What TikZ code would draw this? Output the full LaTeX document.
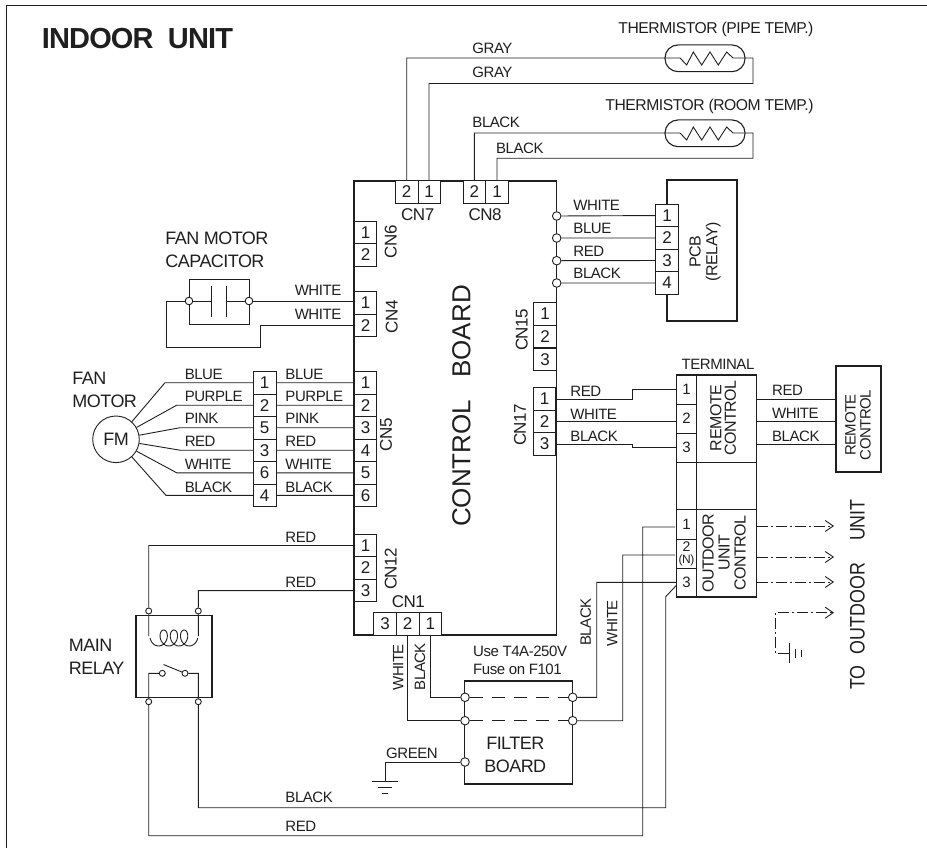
\documentclass[tikz,border=0pt]{standalone}
\usepackage{fontspec}
\setmainfont[LetterSpace=-3]{Liberation Sans}
\usepackage{tikz}
\usetikzlibrary{arrows.meta}

\newfontfamily\plainfont{Liberation Sans}

\begin{document}
\begin{tikzpicture}[x=1pt,y=-1pt,line width=0.9pt,color=black!88]
        \tikzstyle{every node}=[inner sep=0pt]
        \tikzstyle{thick box}=[draw,line width=1.5pt]
        \tikzstyle{pin}=[draw,fill=white,line width=0.9pt,minimum width=22.5pt,minimum height=22.5pt,font=\fontsize{17}{17}\selectfont]
        \tikzstyle{dot}=[draw,fill=white,line width=0.9pt,shape=circle,minimum size=8.6pt]
        \tikzstyle{smalldot}=[draw,fill=white,line width=0.9pt,shape=circle,minimum size=6pt]
        \tikzstyle{wire}=[font=\fontsize{15}{15}\selectfont,anchor=west]
        \tikzstyle{sidewire}=[font=\fontsize{15}{15}\selectfont,rotate=90]
        \tikzstyle{tag}=[font=\fontsize{17}{17}\selectfont]
        \tikzstyle{bigtext}=[anchor=west,align=left,font=\fontsize{18}{23}\selectfont]
        \tikzstyle{cell}=[draw,fill=white,line width=0.9pt,font=\fontsize{15}{15}\selectfont]
        \tikzstyle{outline}=[dash pattern=on 11pt off 3pt on 2pt off 3pt,-{Straight Barb[length=8pt,width=11pt]}]
        \useasboundingbox (0,0) rectangle (927,848);

            % outer frame
            \coordinate (framea) at (6.5,848);
            \coordinate (frameb) at (6.5,5.5);
            \coordinate (framec) at (927,5.5);
            \draw[line width=1.3pt] (framea) -- (frameb) -- (framec);
            \node[font=\fontsize{29}{29}\selectfont\bfseries,anchor=west] (title) at (41.5,38.5) {INDOOR\ \ UNIT};

            % boxes under the connectors
            \node[thick box,minimum width=202.5pt,minimum height=454pt] (board) at (455.3,408) {};
            \node[font=\plainfont\fontsize{26}{26}\selectfont,rotate=90] (boardtext) at (461.5,406) {CONTROL\hspace{22pt}BOARD};
            \node[thick box,minimum width=70pt,minimum height=141pt] (pcb) at (702,250.5) {};
            \node[rotate=90,align=center,font=\fontsize{16}{16.7}\selectfont] (pcbtext) at (705,251.7) {PCB\\(RELAY)};
            \node[thick box,minimum width=76pt,minimum height=82pt] (relay) at (174,656.7) {};
            \node[thick box,minimum width=108.4pt,minimum height=103pt] (filter) at (518.5,732.5) {};
            \node[thick box,minimum width=45pt,minimum height=106pt] (rbox) at (858.5,419) {};
            \node[rotate=90,align=center,font=\fontsize{15}{15}\selectfont] (rboxtext) at (858,425) {REMOTE\\CONTROL};

            % connectors on the board
            \node[pin] (cnga) at (429,192) {1};
            \node[pin] (cngb) at (406.7,192) {2};
            \node[pin] (cnha) at (497,192) {1};
            \node[pin] (cnhb) at (474.4,192) {2};
            \node[pin] (cnfa) at (365.5,232.5) {1};
            \node[pin] (cnfb) at (365.5,255) {2};
            \node[pin] (cnda) at (365.5,303) {1};
            \node[pin] (cndb) at (365.5,325.5) {2};
            \node[pin] (cnea) at (365.5,382.7) {1};
            \node[pin] (cneb) at (365.5,405.2) {2};
            \node[pin] (cnec) at (365.5,427.7) {3};
            \node[pin] (cned) at (365.5,450.2) {4};
            \node[pin] (cnee) at (365.5,472.8) {5};
            \node[pin] (cnef) at (365.5,495.4) {6};
            \node[pin] (cnla) at (365.5,545.5) {1};
            \node[pin] (cnlb) at (365.5,568) {2};
            \node[pin] (cnlc) at (365.5,590.6) {3};
            \node[pin] (cnaa) at (430.4,624) {1};
            \node[pin] (cnab) at (407.7,624) {2};
            \node[pin] (cnac) at (385,624) {3};
            \node[pin] (cnoa) at (545,314) {1};
            \node[pin] (cnob) at (545,336.6) {2};
            \node[pin] (cnoc) at (545,359.2) {3};
            \node[pin] (cnqa) at (544.5,399) {1};
            \node[pin] (cnqb) at (544.5,421.5) {2};
            \node[pin] (cnqc) at (544.5,444) {3};

            % names of the connectors
            \node[tag] (cngtext) at (417.7,215) {CN7};
            \node[tag] (cnhtext) at (485,215) {CN8};
            \node[tag,rotate=90] (cnftext) at (390.7,242) {CN6};
            \node[tag,rotate=90] (cndtext) at (391.7,316.7) {CN4};
            \node[tag,rotate=90] (cnetext) at (386,435) {CN5};
            \node[tag,rotate=90] (cnltext) at (390.7,569) {CN12};
            \node[tag] (cnatext) at (408.3,601.5) {CN1};
            \node[tag,rotate=90] (cnotext) at (521.7,330) {CN15};
            \node[tag,rotate=90] (cnqtext) at (520,425) {CN17};

            % relay board
            \node[pin] (pcba) at (667,215.5) {1};
            \node[pin] (pcbb) at (667,238) {2};
            \node[pin] (pcbc) at (667,260.5) {3};
            \node[pin] (pcbd) at (667,283) {4};
            \node[dot] (pcbdota) at (556.7,216) {};
            \node[dot] (pcbdotb) at (556.7,238) {};
            \node[dot] (pcbdotc) at (556.7,260.7) {};
            \node[dot] (pcbdotd) at (556.7,283) {};
            \draw (pcbdota) -- (pcba)
            (pcbdotb) -- (pcbb)
            (pcbdotc) -- (pcbc)
            (pcbdotd) -- (pcbd)
            ;
            \node[wire] (pcbla) at (573,205) {WHITE};
            \node[wire] (pcblb) at (573,228) {BLUE};
            \node[wire] (pcblc) at (573,251) {RED};
            \node[wire] (pcbld) at (573,273) {BLACK};

            % thermistors
            \node[anchor=west,font=\fontsize{15.7}{16}\selectfont] (thatext) at (618,29.5) {THERMISTOR (PIPE TEMP.)};
            \node[anchor=west,font=\fontsize{15.7}{16}\selectfont] (thbtext) at (605,106.7) {THERMISTOR (ROOM TEMP.)};
            \node[draw,rounded corners=13pt,minimum width=80pt,minimum height=26.7pt,line width=1.1pt] (tha) at (705,58.3) {};
            \node[draw,rounded corners=13pt,minimum width=80pt,minimum height=26.7pt,line width=1.1pt] (thb) at (705,133.3) {};
            \coordinate (thain) at (680,58);
            \coordinate (thaout) at (733,58);
            \coordinate (thaend) at (753,58);
            \coordinate (thaback) at (753,83.5);
            \coordinate (thbin) at (680,133);
            \coordinate (thbout) at (733,133);
            \coordinate (thbend) at (753,133);
            \coordinate (thbback) at (753,158.3);
            \draw (cngb.north) |- (thain) -- ++(6.7,7) -- ++(6.6,-13) -- ++(8.4,13) -- ++(8.3,-13) -- ++(8.3,13) -- ++(8.4,-13) -- (thaout) -- (thaend) -- (thaback) -| (cnga.north);
            \draw (cnhb.north) |- (thbin) -- ++(6.7,7) -- ++(6.6,-13) -- ++(8.4,13) -- ++(8.3,-13) -- ++(8.3,13) -- ++(8.4,-13) -- (thbout) -- (thbend) -- (thbback) -| (cnha.north);
            \node[wire] (thla) at (472,48) {GRAY};
            \node[wire] (thlb) at (472,72) {GRAY};
            \node[wire] (thlc) at (472,122.7) {BLACK};
            \node[wire] (thld) at (495.7,148) {BLACK};

            % fan motor capacitor
            \node[bigtext] (captext) at (165,249.5) {FAN MOTOR\\CAPACITOR};
            \node[dot,minimum size=7.6pt] (capl) at (189,301) {};
            \node[dot,minimum size=7.6pt] (capr) at (249,301) {};
            \coordinate (capplatel) at (211.7,301);
            \coordinate (capplater) at (226.7,301);
            \coordinate (captop) at (189,279);
            \coordinate (capbot) at (189,324);
            \coordinate (capturna) at (260.7,325.5);
            \coordinate (capturnb) at (260.7,347.3);
            \coordinate (capturnc) at (166,347.3);
            \coordinate (capturnd) at (166,301);
            \draw (capl) -- (capplatel)
            (capr) -- (capplater)
            (capplatel) ++(0,-15) -- ++(0,30.5)
            (capplater) ++(0,-15) -- ++(0,30.5)
            (capl) -- (captop) -| (capr)
            (capl) -- (capbot) -| (capr)
            (capr) -- (capr -| cnda.west)
            (cndb.west) -- (capturna) -- (capturnb) -- (capturnc) -- (capturnd) -- (capl)
            ;
            \node[wire] (capla) at (294.3,290.7) {WHITE};
            \node[wire] (caplb) at (294.3,314.3) {WHITE};

            % fan motor
            \node[bigtext] (fmtext) at (72,390) {FAN\\MOTOR};
            \node[draw,shape=circle,minimum size=46.6pt,font=\fontsize{18}{18}\selectfont] (fm) at (116,439.3) {FM};
            \node[pin] (fma) at (264.7,382.7) {1};
            \node[pin] (fmb) at (264.7,405.2) {2};
            \node[pin] (fmc) at (264.7,427.7) {5};
            \node[pin] (fmd) at (264.7,450.2) {3};
            \node[pin] (fme) at (264.7,472.8) {6};
            \node[pin] (fmf) at (264.7,495.4) {4};
            \coordinate (fmturna) at (165,382.7);
            \coordinate (fmturnb) at (176.7,405.2);
            \coordinate (fmturnc) at (180,427.7);
            \coordinate (fmturnd) at (180,450.2);
            \coordinate (fmturne) at (176.7,472.8);
            \coordinate (fmturnf) at (166,495.4);
            \draw (fm.48) -- (fmturna) -- (fma)
            (fm.30) -- (fmturnb) -- (fmb)
            (fm.10) -- (fmturnc) -- (fmc)
            (fm.-10) -- (fmturnd) -- (fmd)
            (fm.-30) -- (fmturne) -- (fme)
            (fm.-48) -- (fmturnf) -- (fmf)
            (fma) -- (cnea)
            (fmb) -- (cneb)
            (fmc) -- (cnec)
            (fmd) -- (cned)
            (fme) -- (cnee)
            (fmf) -- (cnef)
            ;
            \node[wire] (fmla) at (184.3,374) {BLUE};
            \node[wire] (fmlb) at (184.3,396) {PURPLE};
            \node[wire] (fmlc) at (184.3,418.5) {PINK};
            \node[wire] (fmld) at (184.3,441.5) {RED};
            \node[wire] (fmle) at (184.3,464.3) {WHITE};
            \node[wire] (fmlf) at (184.3,487.7) {BLACK};
            \node[wire] (cnela) at (285,374) {BLUE};
            \node[wire] (cnelb) at (285,396) {PURPLE};
            \node[wire] (cnelc) at (285,418.5) {PINK};
            \node[wire] (cneld) at (285,441.5) {RED};
            \node[wire] (cnele) at (285,464.3) {WHITE};
            \node[wire] (cnelf) at (285,487.7) {BLACK};

            % main relay
            \node[bigtext] (relaytext) at (68.5,656.5) {MAIN\\RELAY};
            \node[smalldot] (relaya) at (148.7,611) {};
            \node[smalldot] (relayb) at (198.3,611) {};
            \node[smalldot] (relayc) at (148.7,701.7) {};
            \node[smalldot] (relayd) at (198.3,701.7) {};
            \node[smalldot] (contacta) at (162.3,673.3) {};
            \node[smalldot] (contactb) at (185,673.3) {};
            \coordinate (coila) at (148.7,636);
            \coordinate (coilb) at (198.3,636);
            \coordinate (blade) at (163.5,664.5);
            \draw (relaya) -- (coila)
            (relayb) -- (coilb)
            (relayc) |- (contacta)
            (relayd) |- (contactb)
            (blade) -- (contactb)
            (cnla.west) -| (relaya)
            (cnlc.west) -| (relayb)
            ;
            \draw plot[smooth,samples=90,domain=-90:1170] ({163.7+10.2*(\x-180)/360+6*sin(\x)},{638+8*cos(\x)});
            \node[wire] (relayla) at (285,537.3) {RED};
            \node[wire] (relaylb) at (285,582.3) {RED};

            % filter board
            \node[dot] (filtera) at (465,697.3) {};
            \node[dot] (filterb) at (572.7,697.3) {};
            \node[dot] (filterc) at (465,720.7) {};
            \node[dot] (filterd) at (572.7,720.7) {};
            \node[dot] (filtere) at (465,762) {};
            \node[anchor=west,font=\fontsize{15}{18.3}\selectfont,align=left] (fusetext) at (472.7,660) {Use T4A-250V\\Fuse on F101};
            \node[align=center,font=\fontsize{18}{23}\selectfont] (filtertext) at (515.3,754.5) {FILTER\\BOARD};
            \draw[dash pattern=on 13pt off 9pt] (filtera) -- (filterb);
            \draw[dash pattern=on 13pt off 9pt] (filterc) -- (filterd);
            \draw (cnaa.south) |- (filtera)
            (cnab.south) |- (filterc)
            ;
            \node[sidewire] (filterla) at (398.3,667.3) {WHITE};
            \node[sidewire] (filterlb) at (420,666.7) {BLACK};
            \node[sidewire] (filterlc) at (585.7,622.3) {BLACK};
            \node[sidewire] (filterld) at (612.3,623.3) {WHITE};

            % ground under the filter board
            \coordinate (gnd) at (385,781.7);
            \draw (filtere) -| (gnd)
            (gnd) ++(-12.7,0) -- ++(25.4,0)
            (gnd) ++(-6.7,6) -- ++(13.4,0)
            (gnd) ++(-3.3,11.6) -- ++(6.6,0)
            ;
            \node[wire] (gndl) at (385.7,753.3) {GREEN};

            % terminal
            \node[cell,minimum width=19.5pt,minimum height=29.3pt] (tra) at (686.5,389.6) {1};
            \node[cell,minimum width=19.5pt,minimum height=29.3pt] (trb) at (686.5,418.7) {2};
            \node[cell,minimum width=19.5pt,minimum height=29pt] (trc) at (686.5,447.8) {3};
            \node[cell,minimum width=19.5pt,minimum height=47pt] (trd) at (686.5,485.8) {};
            \node[cell,minimum width=19.5pt,minimum height=30pt] (toa) at (686.5,524.3) {1};
            \node[cell,minimum width=19.5pt,minimum height=29pt] (tob) at (686.5,553.8) {};
            \node[cell,minimum width=19.5pt,minimum height=28.7pt] (toc) at (686.5,582.6) {3};
            \node[font=\fontsize{14}{14}\selectfont] (tobnum) at (686.5,546.7) {2};
            \node[font=\fontsize{12}{12}\selectfont] (tobn) at (686.5,560.5) {(N)};
            \node[cell,minimum width=60.7pt,minimum height=87.3pt] (trr) at (726.3,418.7) {};
            \node[cell,minimum width=60.7pt,minimum height=47pt] (trm) at (726.3,485.8) {};
            \node[cell,minimum width=60.7pt,minimum height=87.7pt] (tor) at (726.3,553.2) {};
            \node[thick box,minimum width=80pt,minimum height=222pt] (term) at (716.7,486) {};
            \node[font=\fontsize{15}{15}\selectfont] (termtext) at (718,364) {TERMINAL};
            \node[rotate=90,align=center,font=\fontsize{16}{14.5}\selectfont] (trrtext) at (723,418) {REMOTE\\CONTROL};
            \node[rotate=90,align=center,font=\fontsize{16}{16}\selectfont] (tortext) at (724,553) {OUTDOOR\\UNIT\\CONTROL};

            % remote control wires
            \coordinate (rcaa) at (632,399);
            \coordinate (rcab) at (632,389.6);
            \coordinate (rcca) at (632,444);
            \coordinate (rccb) at (632,447.8);
            \coordinate (rboxa) at (836,399);
            \coordinate (rboxb) at (836,421.5);
            \coordinate (rboxc) at (836,444);
            \draw (cnqa.east) -- (rcaa) -- (rcab) -- (tra.west)
            (cnqb.east) -- (trb.west |- cnqb.east)
            (cnqc.east) -- (rcca) -- (rccb) -- (trc.west)
            (rboxa -| term.east) -- (rboxa)
            (rboxb -| term.east) -- (rboxb)
            (rboxc -| term.east) -- (rboxc)
            ;
            \node[wire] (rclla) at (570,391.7) {RED};
            \node[wire] (rcllb) at (570,414) {WHITE};
            \node[wire] (rcllc) at (570,436.7) {BLACK};
            \node[wire] (rclra) at (771.7,390.7) {RED};
            \node[wire] (rclrb) at (771.7,413) {WHITE};
            \node[wire] (rclrc) at (771.7,436) {BLACK};

            % wires to the terminal, from below
            \coordinate (toain) at (675,527);
            \coordinate (tobin) at (675,555);
            \coordinate (tocin) at (676.7,582.3);
            \coordinate (todin) at (676.7,585);
            \coordinate (blackup) at (665.7,596.7);
            \coordinate (redturn) at (642.7,835.7);
            \coordinate (blackturn) at (665.7,807.7);
            \coordinate (filterbout) at (596.7,697.3);
            \coordinate (filterdout) at (622.7,720.7);
            \draw (filterb) -- (filterbout) |- (tocin)
            (filterd) -- (filterdout) |- (tobin)
            (relayc) |- (redturn) |- (toain)
            (relayd) |- (blackturn) -- (blackup) -- (todin)
            ;
            \node[wire] (lowla) at (285,797) {BLACK};
            \node[wire] (lowlb) at (285,826.7) {RED};

            % to outdoor unit
            \coordinate (outa) at (757,526);
            \coordinate (outb) at (757,557);
            \coordinate (outc) at (757,582);
            \coordinate (outd) at (775,612.7);
            \coordinate (tipa) at (834,526);
            \coordinate (tipb) at (834,557);
            \coordinate (tipc) at (834,582);
            \coordinate (tipd) at (834,612.7);
            \coordinate (earth) at (789,653);
            \draw[outline] (outa) -- (tipa);
            \draw[outline] (outb) -- (tipb);
            \draw[outline] (outc) -- (tipc);
            \draw[outline] (earth) -| (outd) -- (tipd);
            \draw (earth) ++(0,-10) -- ++(0,20)
            (earth) ++(6.7,-4.5) -- ++(0,9)
            (earth) ++(12.7,-3.5) -- ++(0,7)
            ;
            \node[rotate=90] (outtext) at (857.5,594.5) {\scalebox{.85}[1]{\plainfont\fontsize{21}{21}\selectfont TO\hspace{13pt}OUTDOOR\hspace{26pt}UNIT}};
\end{tikzpicture}
\end{document}
